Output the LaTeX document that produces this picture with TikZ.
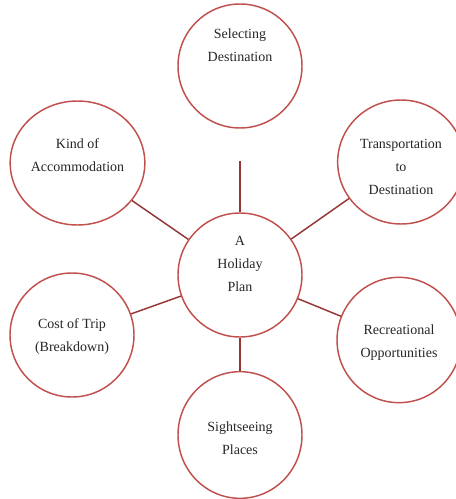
\documentclass[tikz,border=0pt]{standalone}
\usepackage{fontspec}
\setmainfont{Liberation Serif}
\usetikzlibrary{shapes.geometric, positioning}
\definecolor{ringred}{HTML}{C0504D}
\definecolor{linkred}{HTML}{943634}

\begin{document}
\begin{tikzpicture}[x=0.75pt, y=-0.75pt]
    \tikzstyle{bubble} = [ellipse, draw=ringred, line width=1.1pt, fill=white, minimum width=93pt, minimum height=93pt, inner sep=0pt]
    \tikzstyle{say} = [align=center, inner sep=0pt, text=black!85, font=\fontsize{10.5}{17.25}\selectfont]
    \tikzstyle{link} = [draw=linkred, line width=1.1pt]

    \useasboundingbox (0,0) rectangle (456,499);

    \node[bubble, label={[say, yshift=8.25pt]center:{A\\Holiday\\Plan}}] (plan) at (240,275) {};
    \node[bubble, label={[say, yshift=15.75pt]center:{Selecting\\Destination}}] (dest) at (240,66) {};
    \node[bubble, minimum width=101pt, label={[say, yshift=6pt]center:{Kind of\\Accommodation}}] (kind) at (77.5,163) {};
    \node[bubble, minimum width=95pt, label={[say, yshift=-3.75pt]center:{Transportation\\to\\Destination}}] (trans) at (401,162) {};
    \node[bubble, label={[say, yshift=-1pt]center:{Cost of Trip\\(Breakdown)}}] (cost) at (72,335) {};
    \node[bubble, minimum height=94pt, label={[say, yshift=-2.25pt]center:{Recreational\\Opportunities}}] (recr) at (399,340) {};
    \node[bubble, minimum height=95pt, label={[say, yshift=-2.25pt]center:{Sightseeing\\Places}}] (sight) at (240,435) {};

    \draw[link, shorten >=24pt] (plan) -- (dest);
    \draw[link] (plan) -- (kind);
    \draw[link] (plan) -- (trans);
    \draw[link] (plan) -- (cost);
    \draw[link] (plan) -- (recr);
    \draw[link] (plan) -- (sight);
\end{tikzpicture}
\end{document}
